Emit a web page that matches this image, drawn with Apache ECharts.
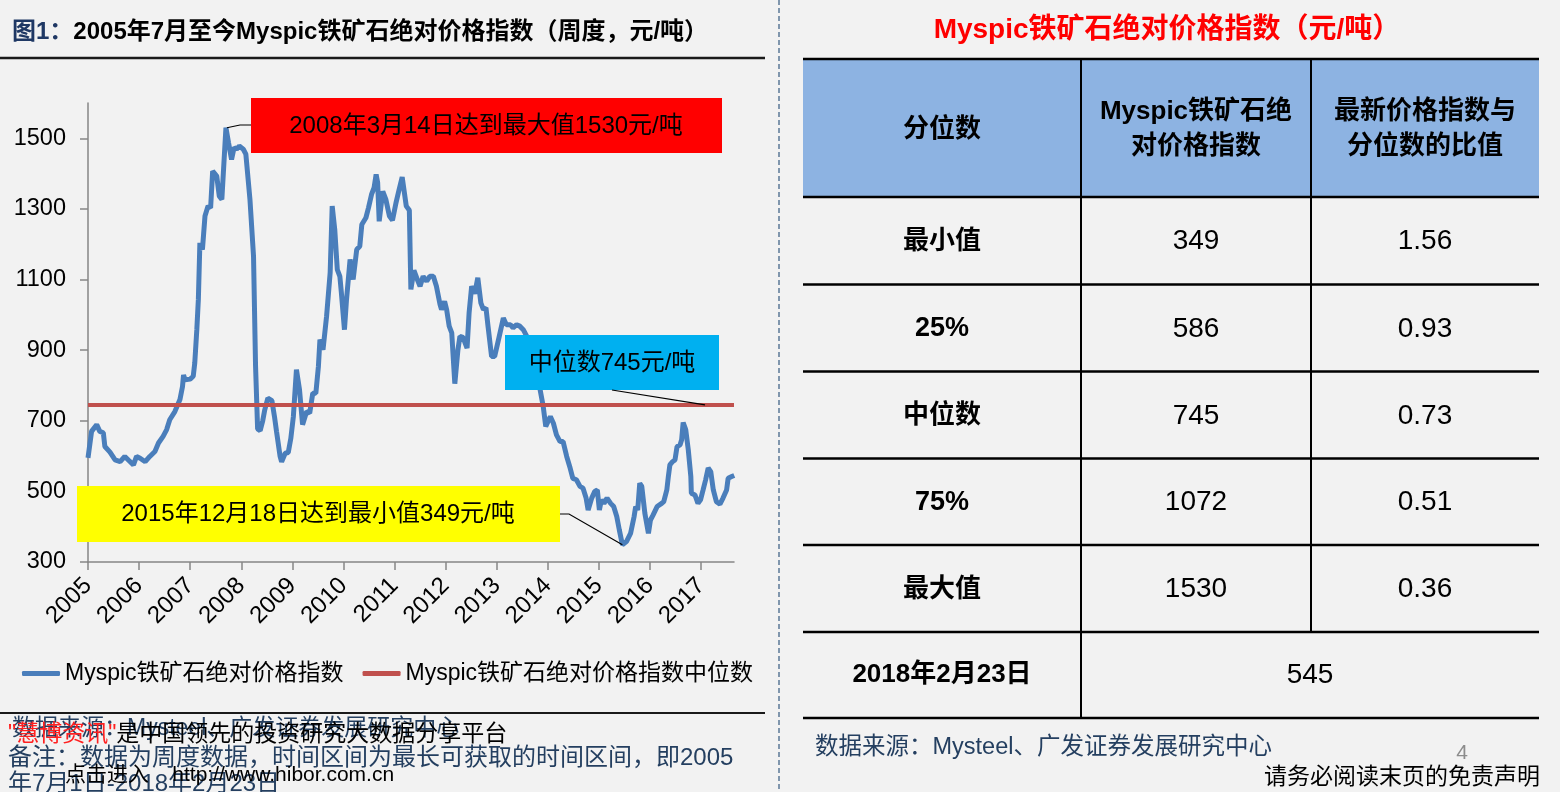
<!DOCTYPE html>
<html>
<head>
<meta charset="utf-8">
<script src="https://cdn.jsdelivr.net/npm/echarts@6/dist/echarts.min.js"></script>
<style>
html,body{margin:0;padding:0;background:#f2f2f2;}
#c{width:1560px;height:792px;}
</style>
</head>
<body>
<div id="c"></div>
<script>
// ---------------- DATA ----------------
// weekly index, sampled (decimal year of the observation)
const dates = [
  2005.50,2005.57,2005.67,2005.73,2005.80,2005.83,2005.93,
  2006.03,2006.13,2006.22,2006.29,2006.39,2006.45,2006.52,2006.62,2006.71,2006.81,2006.88,2006.97,
  2007.04,2007.10,2007.20,2007.30,2007.35,2007.37,2007.40,2007.50,2007.56,2007.59,2007.63,2007.66,2007.69,2007.74,2007.79,2007.85,2007.90,2007.94,
  2008.02,2008.07,2008.12,2008.20,2008.25,2008.31,2008.36,2008.41,2008.46,2008.54,2008.59,2008.67,2008.74,2008.78,2008.82,2008.87,2008.92,2008.96,
  2009.02,2009.10,2009.15,2009.19,2009.26,2009.29,2009.36,2009.42,2009.47,2009.52,2009.58,2009.64,2009.70,2009.78,2009.84,2009.90,2009.96,
  2010.01,2010.04,2010.10,2010.17,2010.24,2010.28,2010.33,2010.38,2010.43,2010.46,2010.52,2010.56,2010.63,2010.69,2010.76,2010.82,2010.86,2010.94,2010.99,
  2011.05,2011.10,2011.14,2011.17,2011.20,2011.27,2011.33,2011.40,2011.46,2011.53,2011.59,2011.65,2011.68,2011.73,2011.79,2011.82,2011.88,2011.96,
  2012.00,2012.06,2012.13,2012.19,2012.26,2012.32,2012.39,2012.42,2012.48,2012.52,2012.57,2012.62,2012.68,2012.74,2012.78,2012.84,2012.92,2012.96,
  2013.01,2013.07,2013.13,2013.19,2013.24,2013.29,2013.33,2013.40,2013.46,2013.55,2013.63,2013.69,2013.77,2013.82,2013.89,2013.95,
  2014.02,2014.09,2014.21,2014.35,2014.41,2014.46,2014.55,2014.61,2014.67,2014.74,2014.80,2014.87,2014.93,2014.99,
  2015.06,2015.13,2015.19,2015.25,2015.29,2015.36,2015.42,2015.47,2015.51,2015.55,2015.60,2015.66,2015.73,2015.79,2015.85,2015.90,2015.96,
  2016.04,2016.12,2016.19,2016.22,2016.26,2016.30,2016.34,2016.40,2016.47,2016.51,2016.56,2016.64,2016.73,2016.77,2016.83,2016.86,2016.89,2016.94,2016.99,
  2017.03,2017.09,2017.12,2017.15,2017.20,2017.25,2017.30,2017.31,2017.38,2017.44,2017.49,2017.54,2017.59,2017.64,2017.69,2017.74,2017.80,2017.87,2017.93,
  2018.00,2018.03,2018.10,2018.15
];
const values = [
  595,670,689,670,666,627,611,
  589,584,599,589,575,599,594,584,599,613,637,656,
  675,703,726,760,797,830,816,818,826,864,958,1043,1204,1185,1280,1308,1303,1407,
  1393,1336,1327,1530,1488,1440,1474,1469,1478,1469,1455,1327,1166,854,677,672,700,731,
  764,757,712,670,599,584,608,610,650,712,845,788,689,726,722,778,778,
  854,930,901,996,1119,1308,1242,1128,1109,1062,958,1043,1157,1100,1185,1194,1256,1275,1303,
  1341,1360,1398,1374,1265,1350,1327,1280,1268,1318,1355,1390,1393,1308,1296,1072,1126,1095,
  1081,1109,1095,1109,1109,1081,1030,1015,1038,1015,968,949,805,900,939,936,906,1006,
  1081,1060,1105,1034,1015,1020,968,882,882,939,991,972,972,963,972,968,
  958,939,870,788,741,684,712,693,660,641,641,599,570,537,
  533,514,509,481,447,481,500,504,447,476,466,481,466,457,429,391,349,
  358,381,429,457,447,523,514,438,381,419,433,457,466,471,504,542,575,584,589,
  627,632,646,695,675,618,542,495,490,466,476,504,533,566,556,504,471,464,481,
  504,537,542,545
];
const medianValue = 745;
const seriesNames = ['Myspic铁矿石绝对价格指数', 'Myspic铁矿石绝对价格指数中位数'];
const yearLabels = [2005,2006,2007,2008,2009,2010,2011,2012,2013,2014,2015,2016,2017];
const yTicks = [300,500,700,900,1100,1300,1500];
const startYear = 2005.5;     // first tick ("2005") = July 2005
const endYear = 2018.145;     // 2018-02-23

// table data
const tableTitle = 'Myspic铁矿石绝对价格指数（元/吨）';
const tableHeader = ['分位数', ['Myspic铁矿石绝', '对价格指数'], ['最新价格指数与', '分位数的比值']];
const quantileLabels = ['最小值', '25%', '中位数', '75%', '最大值'];
const quantileValues = [349, 586, 745, 1072, 1530];
const ratioValues = ['1.56', '0.93', '0.73', '0.51', '0.36'];
const latestDate = '2018年2月23日';
const latestValue = 545;

// ---------------- CHART ----------------
const FONT = "'Liberation Sans','Noto Sans CJK SC',sans-serif";
const chart = echarts.init(document.getElementById('c'), null, {renderer: 'canvas'});

const lineData = dates.map((d, i) => [d - startYear, values[i]]);
const medData = [[0, medianValue], [endYear - startYear, medianValue]];
const axisColor = '#868686';

chart.setOption({
  backgroundColor: '#f2f2f2',
  animation: false,
  grid: {left: 88, right: 826, top: 103, bottom: 230},
  xAxis: {
    type: 'value',
    min: 0,
    max: endYear - startYear,
    splitLine: {show: false},
    axisLine: {lineStyle: {color: axisColor, width: 1.5}},
    axisTick: {length: 8, lineStyle: {color: axisColor, width: 1.5},
      customValues: yearLabels.map(y => y - 2005)},
    axisLabel: {
      customValues: yearLabels.map(y => y - 2005),
      formatter: v => String(2005 + Math.round(v)),
      rotate: 45, margin: 20, fontSize: 24, color: '#000', fontFamily: FONT
    }
  },
  yAxis: {
    type: 'value',
    min: 300,
    max: 1600,
    splitLine: {show: false},
    axisLine: {show: true, lineStyle: {color: axisColor, width: 1.5}},
    axisTick: {show: true, length: 8, lineStyle: {color: axisColor, width: 1.5}, customValues: yTicks},
    axisLabel: {customValues: yTicks, formatter: v => String(v), margin: 22, fontSize: 23.5, color: '#000', fontFamily: FONT}
  },
  legend: {
    left: 17, top: 657, itemWidth: 38, itemHeight: 5, itemGap: 19, icon: 'roundRect',
    textStyle: {fontSize: 23, color: '#000', fontFamily: FONT},
    data: seriesNames
  },
  series: [
    {
      name: seriesNames[0], type: 'line', data: lineData, symbol: 'none', showSymbol: false,
      lineStyle: {color: '#4a7ebb', width: 5}, itemStyle: {color: '#4a7ebb'}, z: 2
    },
    {
      name: seriesNames[1], type: 'line', data: medData, symbol: 'none', showSymbol: false,
      lineStyle: {color: '#c0504d', width: 4}, itemStyle: {color: '#c0504d'}, z: 3
    }
  ]
});

function txt(x, y, text, size, opt) {
  opt = opt || {};
  const align = opt.align || 'center';
  return {
    type: 'text', silent: true, z: opt.z || 20,
    style: {
      x: x, y: y, text: text,
      font: (opt.bold ? 'bold ' : '') + size + 'px ' + (opt.family || FONT),
      fill: opt.fill || '#000',
      align: align, textAlign: align,
      verticalAlign: 'middle', textVerticalAlign: 'middle',
      rich: opt.rich
    }
  };
}
function line(x1, y1, x2, y2, w, color, dash) {
  return {type: 'line', silent: true, z: 15,
    shape: {x1: x1, y1: y1, x2: x2, y2: y2},
    style: {stroke: color || '#000', lineWidth: w || 2, lineDash: dash || null}};
}
function rect(x, y, w, h, fill) {
  return {type: 'rect', silent: true, z: 10, shape: {x: x, y: y, width: w, height: h}, style: {fill: fill}};
}

// pixel anchors of data points for leader lines
const peakIdx = values.indexOf(Math.max.apply(null, values));
const minIdx = values.indexOf(Math.min.apply(null, values));
const peakPx = chart.convertToPixel({gridIndex: 0}, [dates[peakIdx] - startYear, values[peakIdx]]);
const minPx = chart.convertToPixel({gridIndex: 0}, [dates[minIdx] - startYear, values[minIdx]]);
const medPx = chart.convertToPixel({gridIndex: 0}, [12.0, medianValue]);

const g = [];
// page frame
g.push(line(779, 0, 779, 792, 1.5, '#5b7896', [5, 3]));
g.push(line(0, 58, 765, 58, 2.5, '#1a1a1a'));
g.push(line(0, 713, 765, 713, 2, '#1a1a1a'));
g.push(txt(12, 32, '{a|图1：}{b|2005年7月至今Myspic铁矿石绝对价格指数（周度，元/吨）}', 24, {
  align: 'left', bold: true,
  rich: {a: {fill: '#1f3864', font: 'bold 24px ' + FONT}, b: {fill: '#000', font: 'bold 24px ' + FONT}}
}));

// annotations
g.push(rect(251, 98, 471, 55, '#ff0000'));
g.push(txt(486, 126, '2008年3月14日达到最大值' + values[peakIdx] + '元/吨', 24));
g.push({type: 'polyline', silent: true, z: 16,
  shape: {points: [[peakPx[0] + 1, peakPx[1]], [240, 125], [251, 125]]},
  style: {stroke: '#000', lineWidth: 1.2, fill: null}});

g.push(rect(505, 335, 214, 55, '#00b0f0'));
g.push(txt(612, 363, '中位数' + medianValue + '元/吨', 24));
g.push(line(612, 390, 705, medPx[1], 1.2, '#000'));

g.push(rect(77, 486, 483, 56, '#ffff00'));
g.push(txt(318, 514, '2015年12月18日达到最小值' + values[minIdx] + '元/吨', 24));
g.push({type: 'polyline', silent: true, z: 16,
  shape: {points: [[560, 514], [569, 514], [minPx[0], minPx[1]]]},
  style: {stroke: '#000', lineWidth: 1.2, fill: null}});

// left footer (with overlapping watermark text as in source)
g.push(txt(12, 729, '数据来源：Mysteel、广发证券发展研究中心', 23, {align: 'left', fill: '#243f60'}));
g.push(txt(8, 735, '{r|"慧博资讯"}{k|是中国领先的投资研究大数据分享平台}', 23, {
  align: 'left',
  rich: {r: {fill: '#ff2020', font: '23px ' + FONT}, k: {fill: '#000', font: '23px ' + FONT}}
}));
g.push(txt(8, 758, '备注：数据为周度数据，时间区间为最长可获取的时间区间，即2005', 24, {align: 'left', fill: '#243f60'}));
g.push(txt(8, 784, '年7月1日-2018年2月23日', 24, {align: 'left', fill: '#243f60'}));
g.push(txt(65, 775, '点击进入    http://www.hibor.com.cn', 21, {align: 'left', fill: '#000'}));

// ---------------- TABLE ----------------
const colX = [803, 1081, 1311, 1539];
const rowY = [59, 197, 284.5, 371.5, 458.5, 545, 632, 718];
const colC = [942, 1196, 1425];

g.push(txt(1167, 30, tableTitle, 28, {bold: true, fill: '#ff0000'}));
g.push(rect(colX[0], rowY[0], colX[3] - colX[0], rowY[1] - rowY[0], '#8db3e2'));
rowY.forEach(y => g.push(line(colX[0], y, colX[3], y, 2.5, '#000')));
g.push(line(colX[1], rowY[0], colX[1], rowY[7], 2, '#000'));
g.push(line(colX[2], rowY[0], colX[2], rowY[6], 2, '#000'));

const hc = (rowY[0] + rowY[1]) / 2;
g.push(txt(colC[0], hc + 2, tableHeader[0], 26, {bold: true}));
g.push(txt(colC[1], hc - 16, tableHeader[1][0], 26, {bold: true}));
g.push(txt(colC[1], hc + 19, tableHeader[1][1], 26, {bold: true}));
g.push(txt(colC[2], hc - 16, tableHeader[2][0], 26, {bold: true}));
g.push(txt(colC[2], hc + 19, tableHeader[2][1], 26, {bold: true}));

quantileLabels.forEach((lab, i) => {
  const cy = (rowY[i + 1] + rowY[i + 2]) / 2 + 1;
  g.push(txt(colC[0], cy, lab, /%/.test(lab) ? 27 : 26, {bold: true}));
  g.push(txt(colC[1], cy, String(quantileValues[i]), 28));
  g.push(txt(colC[2], cy, ratioValues[i], 28));
});
const lastY = (rowY[6] + rowY[7]) / 2;
g.push(txt(colC[0], lastY, latestDate, 26, {bold: true}));
g.push(txt((colX[1] + colX[3]) / 2, lastY, String(latestValue), 28));

g.push(txt(815, 748, '数据来源：Mysteel、广发证券发展研究中心', 23.5, {align: 'left', fill: '#243f60'}));
g.push(txt(1462, 753, '4', 21, {fill: '#8c8c8c'}));
g.push(txt(1540, 778, '请务必阅读末页的免责声明', 23, {align: 'right', fill: '#000'}));

chart.setOption({graphic: {elements: g}});
</script>
</body>
</html>
